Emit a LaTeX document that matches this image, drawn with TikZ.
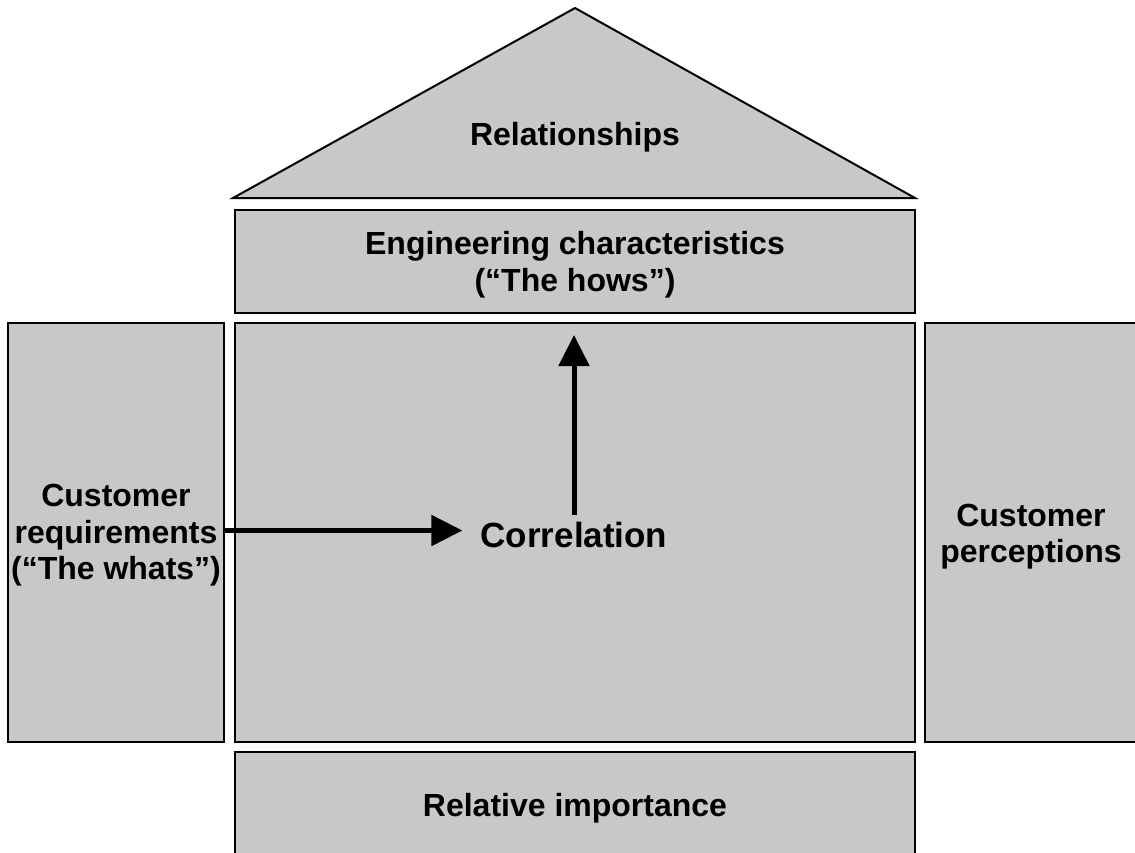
\documentclass[tikz,border=0pt]{standalone}
\usepackage{fontspec}
\setmainfont{Liberation Sans}
\usetikzlibrary{arrows.meta}
\definecolor{boxgray}{RGB}{200,200,200}
\begin{document}
\begin{tikzpicture}[x=1pt,y=-1pt,
  panel/.style={draw=black,line width=2pt,fill=boxgray,inner sep=0pt},
  lbl/.style={font=\fontsize{32}{36.5}\selectfont\bfseries,align=center,inner sep=0pt},
  arr/.style={line width=5pt,-{Triangle[length=31pt,width=30pt]}}]
\useasboundingbox (0,0) rectangle (1135,852);
\clip (0,0) rectangle (1135,852);
% roof
\coordinate (apex) at (575,8);
\coordinate (bl) at (233,198);
\coordinate (br) at (915,198);
\draw[line width=2pt,fill=boxgray,line join=miter] (bl) -- (apex) -- (br) -- cycle;
\node[lbl] (rel) at (575,137) {Relationships};
% boxes
\node[panel,minimum width=680pt,minimum height=103pt] (eng) at (575,261.5) {};
\node[panel,minimum width=680pt,minimum height=419pt] (main) at (575,532.5) {};
\node[panel,minimum width=216pt,minimum height=419pt] (cr) at (116,532.5) {};
\node[panel,minimum width=212pt,minimum height=419pt] (cp) at (1031,532.5) {};
\node[panel,minimum width=680pt,minimum height=106pt] (ri) at (575,805) {};
% labels
\node[lbl] (engt) at ([yshift=-3pt]eng.center) {Engineering characteristics\\(“The hows”)};
\node[lbl] (crt) at ([yshift=-3pt]cr.center) {Customer\\requirements\\(“The whats”)};
\node[lbl] (cpt) at ([yshift=-4pt]cp.center) {Customer\\perceptions};
\node[lbl] (rit) at ([yshift=-3pt]ri.center) {Relative importance};
% correlation
\node[lbl,font=\fontsize{35}{40}\selectfont\bfseries] (corr) at (574,535) {Correlation};
\coordinate (hs) at ([yshift=2pt]cr.east);
\draw[arr,shorten >=18pt] (hs) -- (corr.west |- hs);
\draw[arr,shorten <=7pt,shorten >=13pt] (corr.north) -- (corr.north |- main.north);
\end{tikzpicture}
\end{document}
